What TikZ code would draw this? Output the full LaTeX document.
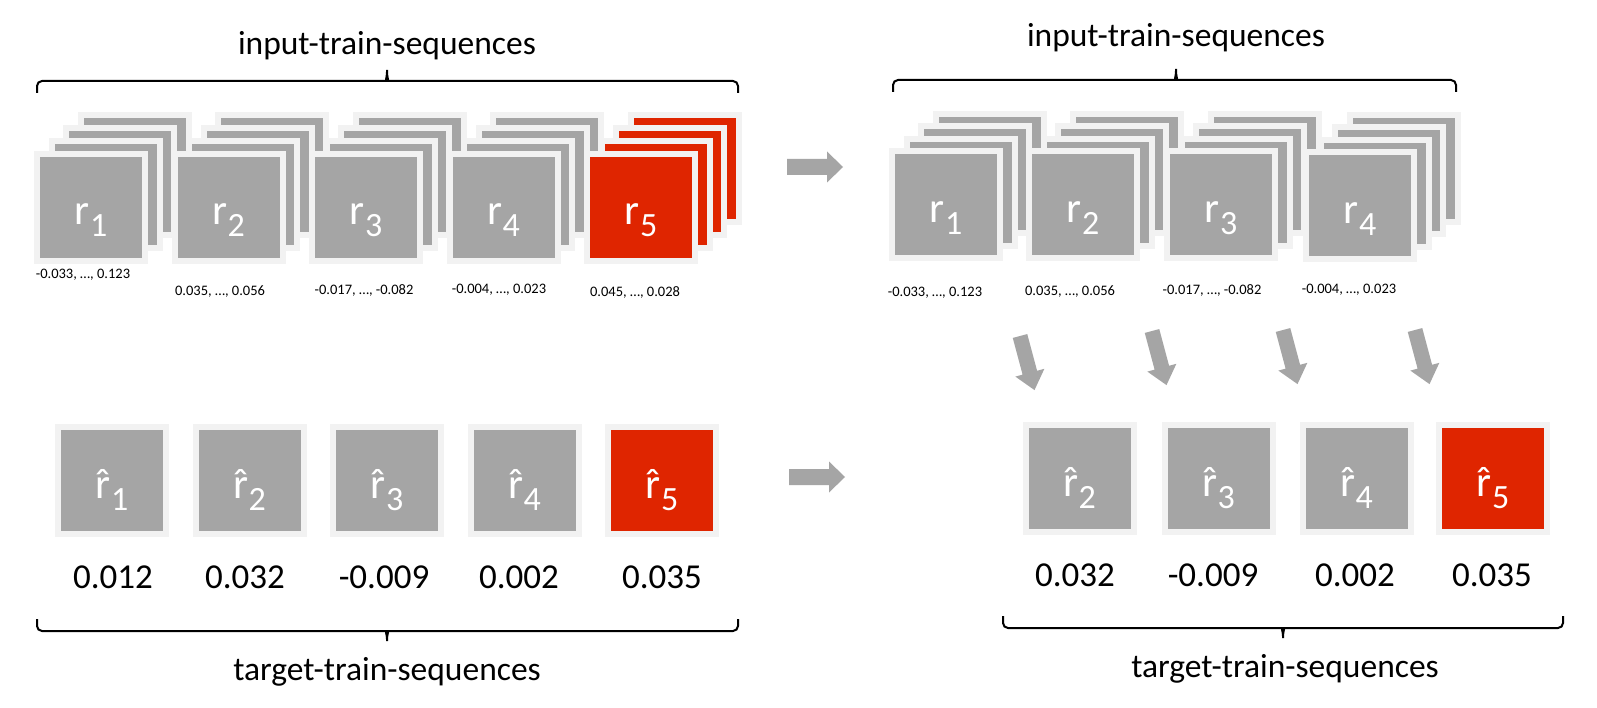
\documentclass[tikz,border=0pt]{standalone}
\usepackage{fontspec}
\setmainfont{Carlito}
\usetikzlibrary{calc}
\definecolor{boxgray}{HTML}{A5A5A5}
\definecolor{boxedge}{HTML}{F2F2F2}
\definecolor{boxred}{HTML}{DF2500}
\newcommand{\myrsub}[1]{{\fontsize{43}{43}\selectfont r\kern0.5pt\raisebox{-12pt}{\fontsize{34}{34}\selectfont #1}}}
\newcommand{\myrhat}[1]{{\fontsize{43}{43}\selectfont \accent"02C6 r\kern0.5pt\raisebox{-12pt}{\fontsize{34}{34}\selectfont #1}}}
\newcommand{\drawstack}[7]{%
  \node[#6] (#1-3) at (#2+3*#4,#3-3*#5) {};
  \node[#6] (#1-2) at (#2+2*#4,#3-2*#5) {};
  \node[#6] (#1-1) at (#2+#4,#3-#5) {};
  \node[#6] (#1) at (#2,#3) {};
  \node[boxtext] (#1-t) at ($(#1.center)+(0,17.5)$) {\myrsub{#7}};
}
\tikzset{
  tile/.style={draw=boxedge, line width=6pt, fill=boxgray, minimum width=108pt, minimum height=107pt, inner sep=0pt, outer sep=0pt},
  redtile/.style={tile, fill=boxred},
  boxtext/.style={text=white, anchor=base, inner sep=0pt},
  smalllab/.style={font=\fontsize{14.5}{14.5}\selectfont, inner sep=0pt},
  vallab/.style={font=\fontsize{35}{35}\selectfont, inner sep=0pt},
  titlelab/.style={font=\fontsize{33.5}{33.5}\selectfont, inner sep=0pt},
  bracepath/.style={draw=black, line width=2pt, rounded corners=5pt},
  blockarrow/.style={fill=boxgray},
}
\begin{document}
\begin{tikzpicture}[x=1pt,y=-1pt]
\useasboundingbox[fill=white] (0,0) rectangle (1597,708);

% ---------- left: input stacks ----------
\drawstack{L1}{91}{207.5}{14.5}{13}{tile}{1}
\drawstack{L2}{228.5}{207.5}{14.5}{13}{tile}{2}
\drawstack{L3}{366}{207.5}{14.5}{13}{tile}{3}
\drawstack{L4}{503.5}{207.5}{14.5}{13}{tile}{4}
\drawstack{L5}{641}{207.5}{14.5}{13}{redtile}{5}

\node[smalllab] (L1v) at (83,275) {-0.033, …, 0.123};
\node[smalllab] (L2v) at (220,292) {0.035, …, 0.056};
\node[smalllab] (L3v) at (364,290) {-0.017, …, -0.082};
\node[smalllab] (L4v) at (499,290) {-0.004, …, 0.023};
\node[smalllab] (L5v) at (635,292) {0.045, …, 0.028};

% ---------- right: input stacks ----------
\drawstack{R1}{946}{205}{14.5}{12.5}{tile}{1}
\drawstack{R2}{1083}{205}{14.5}{12.5}{tile}{2}
\drawstack{R3}{1221}{205}{14.5}{12.5}{tile}{3}
\drawstack{R4}{1360}{206}{14.5}{12.5}{tile}{4}

\node[smalllab] (R1v) at (935,293) {-0.033, …, 0.123};
\node[smalllab] (R2v) at (1070,292) {0.035, …, 0.056};
\node[smalllab] (R3v) at (1212,290) {-0.017, …, -0.082};
\node[smalllab] (R4v) at (1349,290) {-0.004, …, 0.023};

% ---------- left: targets ----------
\foreach \n/\x/\s/\v/\vx in {1/112/tile/0.012/113, 2/249.5/tile/0.032/245, 3/387/tile/-0.009/384, 4/524.5/tile/0.002/519, 5/662/redtile/0.035/662}{
  \node[\s] (LT\n) at (\x,480.5) {};
  \node[boxtext] (LT\n-t) at ($(LT\n.center)+(0,17.5)$) {\myrhat{\n}};
  \node[vallab] (LT\n-v) at (\vx,577) {\v};
}

% ---------- right: targets ----------
\foreach \n/\x/\s/\v/\vx in {2/1079.5/tile/0.032/1075, 3/1218.5/tile/-0.009/1213, 4/1356.5/tile/0.002/1355, 5/1493/redtile/0.035/1492}{
  \node[\s] (RT\n) at (\x,478.5) {};
  \node[boxtext] (RT\n-t) at ($(RT\n.center)+(0,17.5)$) {\myrhat{\n}};
  \node[vallab] (RT\n-v) at (\vx,575) {\v};
}

% ---------- braces ----------
\draw[bracepath] (37,93) -- (37,81) -- (381,81) .. controls (385.5,81) and (387,76) .. (387,67) .. controls (387,76) and (388.5,81) .. (393,81) -- (738,81) -- (738,93);
\draw[bracepath] (893,92) -- (893,80) -- (1170,80) .. controls (1174.5,80) and (1176,75) .. (1176,66) .. controls (1176,75) and (1177.5,80) .. (1182,80) -- (1456,80) -- (1456,92);
\draw[bracepath] (37,619) -- (37,631) -- (381,631) .. controls (385.5,631) and (387,636) .. (387,644) .. controls (387,636) and (388.5,631) .. (393,631) -- (738,631) -- (738,619);
\draw[bracepath] (1003,616) -- (1003,628) -- (1277,628) .. controls (1281.5,628) and (1283,633) .. (1283,641) .. controls (1283,633) and (1284.5,628) .. (1289,628) -- (1563,628) -- (1563,616);

\node[titlelab] (tl) at (387,46) {input-train-sequences};
\node[titlelab] (tr) at (1176,38) {input-train-sequences};
\node[titlelab] (bl) at (387,672) {target-train-sequences};
\node[titlelab] (br) at (1285,669) {target-train-sequences};

% ---------- block arrows ----------
\fill[blockarrow, shift={(787,167)}] (0,-8) -- (40,-8) -- (40,-15.5) -- (56,0) -- (40,15.5) -- (40,8) -- (0,8) -- cycle;
\fill[blockarrow, shift={(789,477)}] (0,-8) -- (40,-8) -- (40,-15.5) -- (56,0) -- (40,15.5) -- (40,8) -- (0,8) -- cycle;
\foreach \ax/\ay in {1020/336, 1152/331, 1283/330, 1415/330}{
  \fill[blockarrow, shift={(\ax,\ay)}, rotate=15] (-7.5,0) -- (7.5,0) -- (7.5,38) -- (15,38) -- (0,56) -- (-15,38) -- (-7.5,38) -- cycle;
}
\end{tikzpicture}
\end{document}
